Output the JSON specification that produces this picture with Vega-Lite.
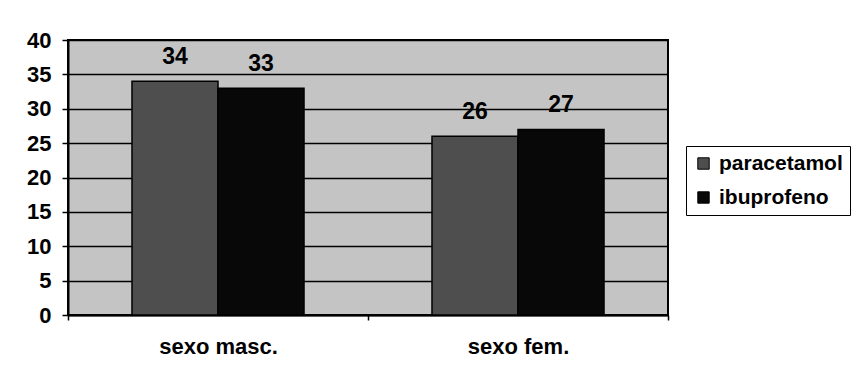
{
  "$schema": "https://vega.github.io/schema/vega-lite/v6.json",
  "width": 600,
  "height": 275,
  "autosize": {"type": "none"},
  "padding": {"left": 68, "top": 40, "right": 185, "bottom": 71},
  "background": "white",
  "config": {
    "font": "Liberation Sans",
    "view": {"fill": "#c4c4c4", "stroke": "black", "strokeWidth": 2}
  },
  "data": {
    "values": [
      {"grupo": "sexo masc.", "farmaco": "paracetamol", "valor": 34},
      {"grupo": "sexo masc.", "farmaco": "ibuprofeno", "valor": 33},
      {"grupo": "sexo fem.", "farmaco": "paracetamol", "valor": 26},
      {"grupo": "sexo fem.", "farmaco": "ibuprofeno", "valor": 27}
    ]
  },
  "encoding": {
    "x": {
      "field": "grupo",
      "type": "nominal",
      "sort": ["sexo masc.", "sexo fem."],
      "scale": {"paddingInner": 0, "paddingOuter": 0},
      "axis": {
        "title": null,
        "labelAngle": 0,
        "labelFontSize": 22,
        "labelFontWeight": "bold",
        "labelColor": "black",
        "labelPadding": 16,
        "tickBand": "extent",
        "tickColor": "black",
        "tickSize": 5,
        "tickWidth": 1.5,
        "domainColor": "black",
        "domainWidth": 2
      }
    },
    "xOffset": {
      "field": "farmaco",
      "type": "nominal",
      "sort": ["paracetamol", "ibuprofeno"],
      "scale": {"paddingInner": 0, "paddingOuter": 0.744}
    },
    "y": {
      "field": "valor",
      "type": "quantitative",
      "scale": {"domain": [0, 40], "nice": false},
      "axis": {
        "title": null,
        "values": [0, 5, 10, 15, 20, 25, 30, 35, 40],
        "labelFontSize": 22,
        "labelFontWeight": "bold",
        "labelColor": "black",
        "labelPadding": 11,
        "tickColor": "black",
        "tickSize": 6,
        "tickWidth": 1.5,
        "grid": true,
        "gridColor": "black",
        "gridWidth": 1.5,
        "gridOpacity": 1,
        "domainColor": "black",
        "domainWidth": 2
      }
    }
  },
  "layer": [
    {
      "mark": {"type": "bar", "stroke": "black", "strokeWidth": 1.5},
      "encoding": {
        "fill": {
          "field": "farmaco",
          "type": "nominal",
          "sort": ["paracetamol", "ibuprofeno"],
          "scale": {"domain": ["paracetamol", "ibuprofeno"], "range": ["#4e4e4e", "#080808"]},
          "legend": {
            "title": null,
            "orient": "none",
            "legendX": 618,
            "legendY": 106,
            "direction": "vertical",
            "symbolType": "square",
            "symbolSize": 130,
            "symbolStrokeColor": "black",
            "symbolStrokeWidth": 1,
            "labelFontSize": 21,
            "labelFontWeight": "bold",
            "labelColor": "black",
            "labelOffset": 5,
            "rowPadding": 12,
            "strokeColor": "black",
            "padding": 7,
            "fillColor": "white"
          }
        }
      }
    },
    {
      "mark": {"type": "text", "dy": -24, "baseline": "middle", "fontSize": 23, "fontWeight": "bold", "color": "black"},
      "encoding": {
        "text": {"field": "valor", "type": "quantitative"}
      }
    }
  ]
}
